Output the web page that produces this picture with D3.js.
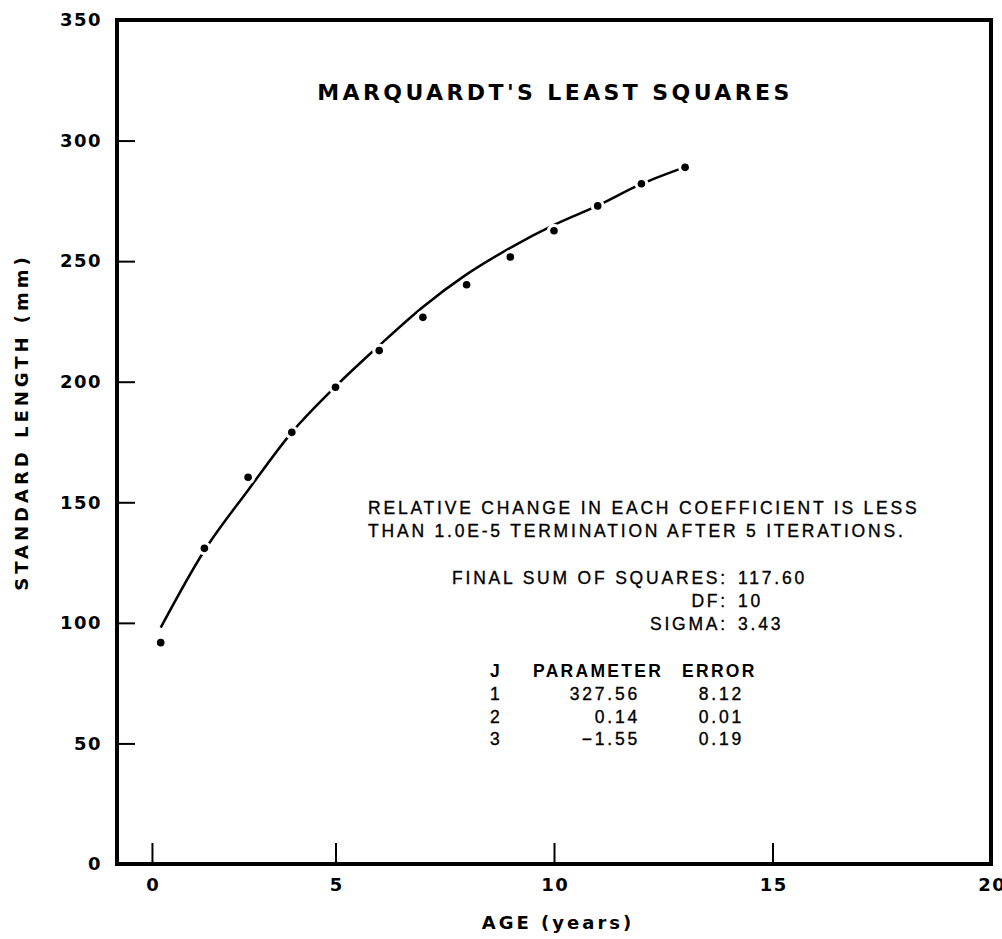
<!DOCTYPE html>
<html>
<head>
<meta charset="utf-8">
<script src="https://cdn.jsdelivr.net/npm/d3@7"></script>
<style>
body{margin:0;background:#fff;}
text{font-family:"DejaVu Sans",Verdana,sans-serif;fill:#000;}
.plain text{font-family:"Liberation Sans",Arial,Helvetica,sans-serif;}
</style>
</head>
<body>
<div id="chart"></div>
<script>
// observed standard length at age (dots)
var ages = [1,2,3,4,5,6,7,8,9,10,11,12,13];
var lengths = [91.8,130.9,160.4,179.0,197.7,212.9,226.7,240.2,251.7,262.6,272.9,282.1,288.9];
// fitted curve
var fitAges = [1,2,3,4,5,6,7,8,9,10,11,12,13];
var fitLengths = [98,130,155,179,198,215,231,244.5,255.5,265,273,282,289];

// axis ticks (the "0" tick sits a bit right of the axis in the original)
var xTickValues = [0.8,5,10,15,20];
var xTickLabels = ["0","5","10","15","20"];
var yTickValues = [0,50,100,150,200,250,300,350];

var noteLines = ["RELATIVE CHANGE IN EACH COEFFICIENT IS LESS",
                 "THAN 1.0E-5 TERMINATION AFTER 5 ITERATIONS."];
var statLabels = ["FINAL SUM OF SQUARES:","DF:","SIGMA:"];
var statValues = ["117.60","10","3.43"];
var paramHeader = ["J","PARAMETER","ERROR"];
var paramJ = ["1","2","3"];
var paramValues = ["327.56","0.14","\u22121.55"];
var paramErrors = ["8.12","0.01","0.19"];

(function(){

    var width = 1002, height = 939;
    var left = 117, top = 20, right = 991, bottom = 864;

    var svg = d3.select("#chart").append("svg")
        .attr("width",width)
        .attr("height",height);

    var x = d3.scaleLinear().domain([0,20]).range([left,right]);
    var y = d3.scaleLinear().domain([0,350]).range([bottom,top]);

    //y axis, ticks pointing in
    var yAxis = svg.append("g")
        .attr("transform","translate(" + left + ",0)")
        .call(d3.axisLeft(y).tickValues(yTickValues).tickSize(-18).tickPadding(15));
    yAxis.select(".domain").remove();
    yAxis.selectAll(".tick line")
        .attr("stroke-width",2)
        .filter(function(d){return d === 0 || d === 350;}).remove();
    yAxis.selectAll(".tick text")
        .style("font-size","18px")
        .style("font-weight","bold")
        .style("letter-spacing","1.5px");

    //x axis
    var xAxis = svg.append("g")
        .attr("transform","translate(0," + bottom + ")")
        .call(d3.axisBottom(x).tickValues(xTickValues)
            .tickFormat(function(d,i){return xTickLabels[i];})
            .tickSize(-21).tickPadding(14));
    xAxis.select(".domain").remove();
    xAxis.selectAll(".tick line")
        .attr("stroke-width",2)
        .filter(function(d){return d === 20;}).remove();
    xAxis.selectAll(".tick text")
        .style("font-size","18px")
        .style("font-weight","bold")
        .style("letter-spacing","1.5px")
        .attr("dx","0.7px");

    //frame
    svg.append("rect")
        .attr("x",left)
        .attr("y",top)
        .attr("width",right-left)
        .attr("height",bottom-top)
        .attr("fill","none")
        .attr("stroke","#000")
        .attr("stroke-width",4);

    //fitted curve
    var line = d3.line()
        .x(function(d,i){return x(fitAges[i]);})
        .y(function(d){return y(d);})
        .curve(d3.curveMonotoneX);
    svg.append("path")
        .datum(fitLengths)
        .attr("d",line)
        .attr("fill","none")
        .attr("stroke","#000")
        .attr("stroke-width",2.5);

    //white halo first, it leaves the pen gaps where the curve meets a dot
    svg.selectAll(".halo")
        .data(lengths)
        .enter()
        .append("circle")
        .attr("class","halo")
        .attr("cx",function(d,i){return x(ages[i]);})
        .attr("cy",function(d){return y(d);})
        .attr("r",7)
        .attr("fill","#fff");
    svg.selectAll(".dot")
        .data(lengths)
        .enter()
        .append("circle")
        .attr("class","dot")
        .attr("cx",function(d,i){return x(ages[i]);})
        .attr("cy",function(d){return y(d);})
        .attr("r",3.8)
        .attr("fill","#000");

    //title
    svg.append("text")
        .attr("x",555)
        .attr("y",100)
        .attr("text-anchor","middle")
        .style("font-size","22px")
        .style("font-weight","bold")
        .style("letter-spacing","3.4px")
        .text("MARQUARDT'S LEAST SQUARES");

    //axis titles
    svg.append("text")
        .attr("x",558)
        .attr("y",929)
        .attr("text-anchor","middle")
        .style("font-size","18px")
        .style("font-weight","bold")
        .style("letter-spacing","3px")
        .text("AGE (years)");
    svg.append("text")
        .attr("transform","translate(28,422) rotate(-90)")
        .attr("text-anchor","middle")
        .style("font-size","18px")
        .style("font-weight","bold")
        .style("letter-spacing","4px")
        .text("STANDARD LENGTH (mm)");

    //notes, plotter lettering is a touch heavy so add a thin stroke
    var body = svg.append("g")
        .attr("class","plain")
        .style("font-size","17.5px")
        .style("letter-spacing","2.8px")
        .style("stroke","#000")
        .style("stroke-width","0.35px");
    body.selectAll(".note")
        .data(noteLines)
        .enter()
        .append("text")
        .attr("x",368)
        .attr("y",function(d,i){return 514 + i*23;})
        .text(function(d){return d;});

    //stats, labels end at the colon
    body.selectAll(".statLabel")
        .data(statLabels)
        .enter()
        .append("text")
        .attr("x",728)
        .attr("y",function(d,i){return 584 + i*23;})
        .attr("text-anchor","end")
        .text(function(d){return d;});
    body.selectAll(".statValue")
        .data(statValues)
        .enter()
        .append("text")
        .attr("x",738)
        .attr("y",function(d,i){return 584 + i*23;})
        .text(function(d){return d;});

    //parameter table
    var colX = [490,533,682];
    svg.append("g")
        .attr("class","plain")
        .selectAll("text")
        .data(paramHeader)
        .enter()
        .append("text")
        .attr("x",function(d,i){return colX[i];})
        .attr("y",677)
        .style("font-size","17.5px")
        .style("font-weight","bold")
        .style("letter-spacing","2.3px")
        .text(function(d){return d;});
    body.selectAll(".pj")
        .data(paramJ)
        .enter()
        .append("text")
        .attr("x",490)
        .attr("y",function(d,i){return 700 + i*22.5;})
        .text(function(d){return d;});
    body.selectAll(".pv")
        .data(paramValues)
        .enter()
        .append("text")
        .attr("x",640)
        .attr("y",function(d,i){return 700 + i*22.5;})
        .attr("text-anchor","end")
        .text(function(d){return d;});
    body.selectAll(".pe")
        .data(paramErrors)
        .enter()
        .append("text")
        .attr("x",744)
        .attr("y",function(d,i){return 700 + i*22.5;})
        .attr("text-anchor","end")
        .text(function(d){return d;});

})();
</script>
</body>
</html>
